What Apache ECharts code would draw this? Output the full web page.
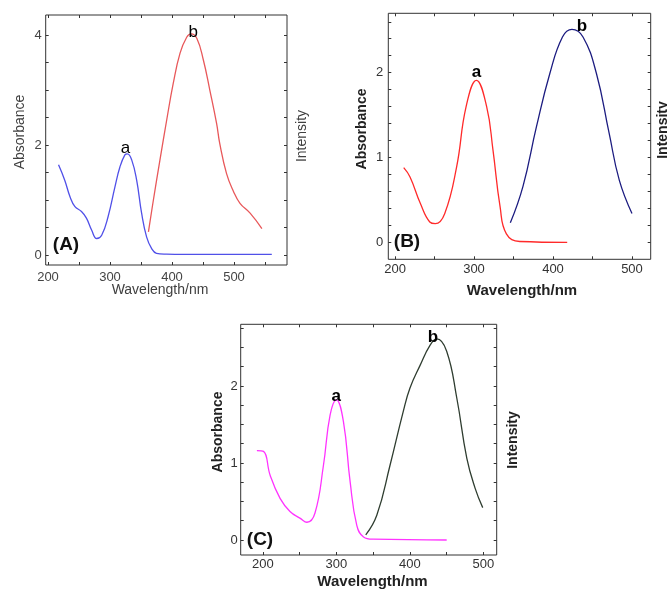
<!DOCTYPE html>
<html><head><meta charset="utf-8">
<script src="https://cdn.jsdelivr.net/npm/echarts@6/dist/echarts.min.js"></script>
<style>html,body{margin:0;padding:0;background:#fff}#c{width:667px;height:590px}</style>
</head><body><div id="c"></div>
<script>
// Panel A
const A_abs_x = [217,227,235.5,243.5,254,262,270.5,278.5,286.6,297,308,316,324,328,335,343,351,359,367,375,391,420,480,561];
const A_abs_y = [1.64,1.36,1.06,0.88,0.79,0.67,0.45,0.30,0.36,0.70,1.24,1.6,1.82,1.84,1.73,1.36,0.76,0.33,0.12,0.03,0.015,0.01,0.01,0.01];
const A_em_x = [362,370,380.6,391.4,402,413,423.7,431,440,450.5,461,472,477,488,499,509.7,526,545];
const A_em_y = [0.42,1.0,1.73,2.45,3.12,3.67,3.96,4.02,3.94,3.55,3.0,2.39,2.03,1.48,1.16,0.94,0.76,0.48];
// Panel B
const B_abs_x = [211,219,232,244,251,263,278,290,303,316,324,333,341,358,418];
const B_abs_y = [0.88,0.77,0.46,0.24,0.22,0.34,0.89,1.6,1.91,1.6,1.09,0.42,0.1,0.01,0.0];
const B_em_x = [346,362,379,396,412,424,438,455,471,484,500];
const B_em_y = [0.23,0.66,1.36,1.99,2.42,2.51,2.42,1.99,1.29,0.73,0.34];
// Panel C
const C_abs_x = [192,201,210,223.5,237,251,260,271,282.5,291.5,300,309.6,318.7,327.8,337,350,450];
const C_abs_y = [1.16,1.15,0.84,0.54,0.37,0.28,0.23,0.35,0.97,1.62,1.82,1.54,0.76,0.19,0.04,0.01,0.0];
const C_em_x = [340,355,373,391,400,414,427.5,436.6,450,463.8,477.4,488.7,499];
const C_em_y = [0.065,0.32,0.97,1.67,1.97,2.27,2.53,2.61,2.45,1.84,1.06,0.67,0.42];
// ticks
const xLabels = [200,300,400,500];
const xTicks = [200,250,300,350,400,450,500,550];
const A_yLabels = [0,2,4];
const B_yLabels = [0,1,2];
const C_yLabels = [0,1,2];
const A_yTicks = [0,0.5,1,1.5,2,2.5,3,3.5,4];
const B_yTicks = [0,0.2,0.4,0.6,0.8,1,1.2,1.4,1.6,1.8,2,2.2,2.4,2.6];
const C_yTicks = [0,0.25,0.5,0.75,1,1.25,1.5,1.75,2,2.25,2.5,2.75];

const panels = [
  {grid:{left:45.7,top:15,width:241.3,height:250}, xmin:196.3, xmax:585.5, ymin:-0.182, ymax:4.364,
   yLabels:A_yLabels, yTicks:A_yTicks, labelSize:13, labelColor:'#444', xMargin:6, yMargin:4,
   curves:[{x:A_abs_x,y:A_abs_y,color:'#5050e8',peak:'a',off:[-2,4]},{x:A_em_x,y:A_em_y,color:'#e8585a',peak:'b',off:[2,8]}],
   peakBold:'normal', peakSize:17},
  {grid:{left:388.3,top:13.3,width:262.4,height:246}, xmin:191.5, xmax:523.7, ymin:-0.2, ymax:2.70,
   yLabels:B_yLabels, yTicks:B_yTicks, labelSize:13, labelColor:'#333', xMargin:4, yMargin:5,
   curves:[{x:B_abs_x,y:B_abs_y,color:'#ff2a2a',peak:'a',off:[0,1]},{x:B_em_x,y:B_em_y,color:'#1c1c80',peak:'b',off:[10,6]}],
   peakBold:'bold', peakSize:17},
  {grid:{left:240.7,top:324.3,width:256,height:230.7}, xmin:170, xmax:518, ymin:-0.195, ymax:2.8,
   yLabels:C_yLabels, yTicks:C_yTicks, labelSize:13, labelColor:'#333', xMargin:3, yMargin:3,
   curves:[{x:C_abs_x,y:C_abs_y,color:'#ff33ff',peak:'a',off:[0,6]},{x:C_em_x,y:C_em_y,color:'#2f3d30',peak:'b',off:[-4,8]}],
   peakBold:'bold', peakSize:17}
];

const grid=[], xAxis=[], yAxis=[], series=[];
const tickStyle = {show:true, inside:true, length:3, lineStyle:{color:'#333',width:1}};
const noLine = {show:false, onZero:false};
panels.forEach((p,i)=>{
  grid.push(Object.assign({show:true, borderColor:'#333', borderWidth:1, containLabel:false}, p.grid));
  const xt = xTicks.filter(v=>v>=p.xmin&&v<=p.xmax);
  xAxis.push({type:'value', gridIndex:i, position:'bottom', min:p.xmin, max:p.xmax,
    axisLine:noLine, splitLine:{show:false},
    axisTick:Object.assign({customValues:xt},tickStyle),
    axisLabel:{customValues:xLabels, fontSize:p.labelSize, color:p.labelColor, margin:p.xMargin, fontFamily:'Liberation Sans'}});
  xAxis.push({type:'value', gridIndex:i, position:'top', min:p.xmin, max:p.xmax,
    axisLine:noLine, splitLine:{show:false},
    axisTick:Object.assign({customValues:xt},tickStyle),
    axisLabel:{show:false}});
  yAxis.push({type:'value', gridIndex:i, position:'left', min:p.ymin, max:p.ymax,
    axisLine:noLine, splitLine:{show:false},
    axisTick:Object.assign({customValues:p.yTicks},tickStyle),
    axisLabel:{customValues:p.yLabels, fontSize:p.labelSize, color:p.labelColor, margin:p.yMargin, fontFamily:'Liberation Sans'}});
  yAxis.push({type:'value', gridIndex:i, position:'right', min:p.ymin, max:p.ymax,
    axisLine:noLine, splitLine:{show:false},
    axisTick:Object.assign({customValues:p.yTicks},tickStyle),
    axisLabel:{show:false}});
  p.curves.forEach(c=>{
    let maxI = 0; c.y.forEach((v,k)=>{ if(v>c.y[maxI]) maxI=k; });
    series.push({type:'line', xAxisIndex:2*i, yAxisIndex:2*i, data:c.x.map((x,k)=>[x,c.y[k]]),
      smooth:0.45, showSymbol:false, symbol:'none',
      lineStyle:{color:c.color, width:1.3}, animation:false, z:3});
    series.push({type:'scatter', xAxisIndex:2*i, yAxisIndex:2*i, data:[[c.x[maxI],c.y[maxI]]],
      symbol:'circle', symbolSize:2, itemStyle:{color:'rgba(255,255,255,0)'}, silent:true, animation:false, z:4,
      label:{show:true, formatter:c.peak, position:'top', distance:0, offset:c.off,
        fontSize:p.peakSize, fontWeight:p.peakBold, color:'#000', opacity:1, fontFamily:'Liberation Sans'}});
  });
});

function vtext(x,y,t,size,weight,color){
  return {type:'text', x:x, y:y, rotation:Math.PI/2,
    style:{text:t, fontSize:size, fontWeight:weight, fill:color, fontFamily:'Liberation Sans', align:'center', verticalAlign:'middle'}};
}
function htext(x,y,t,size,weight,color){
  return {type:'text', x:x, y:y,
    style:{text:t, fontSize:size, fontWeight:weight, fill:color, fontFamily:'Liberation Sans', align:'center', verticalAlign:'middle'}};
}
const graphic = [
  vtext(20,132,'Absorbance',14,'normal','#404040'),
  vtext(302,136,'Intensity',14,'normal','#404040'),
  htext(160,290,'Wavelength/nm',14,'normal','#404040'),
  htext(66,245,'(A)',19,'bold','#111'),
  vtext(362,129,'Absorbance',14,'bold','#222'),
  vtext(663,130,'Intensity',14,'bold','#222'),
  htext(522,291,'Wavelength/nm',15,'bold','#222'),
  htext(407,242,'(B)',19,'bold','#111'),
  vtext(218,432,'Absorbance',14,'bold','#222'),
  vtext(513,440,'Intensity',14,'bold','#222'),
  htext(372.5,582,'Wavelength/nm',15,'bold','#222'),
  htext(260,540,'(C)',19,'bold','#111')
];

const chart = echarts.init(document.getElementById('c'), null, {renderer:'canvas'});
chart.setOption({animation:false, backgroundColor:'#fff', grid, xAxis, yAxis, series, graphic});
</script></body></html>
